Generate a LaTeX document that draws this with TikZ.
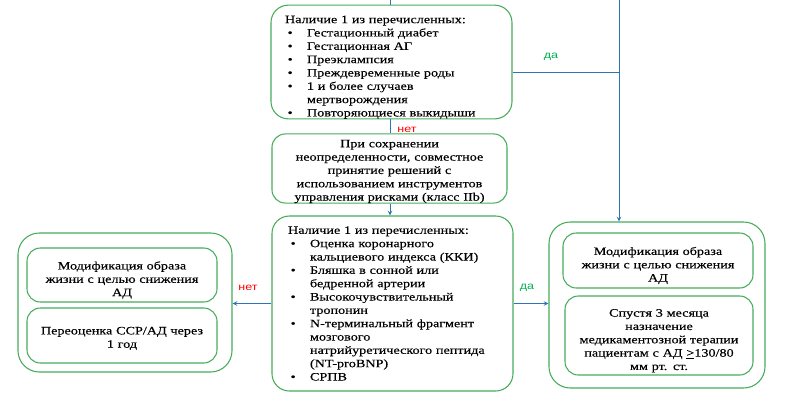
\documentclass[tikz,border=0pt]{standalone}
\usepackage{fontspec}
\setmainfont[FakeStretch=1.25, FakeBold=0.3]{Liberation Serif}
\newfontfamily\lblfont[FakeStretch=1.25]{Liberation Sans}
\usepackage{tikz}
\definecolor{gborder}{RGB}{70,172,90}
\definecolor{lblue}{RGB}{46,117,182}
\definecolor{nred}{RGB}{255,0,0}
\definecolor{ygreen}{RGB}{0,176,80}

\newcommand{\bitem}[1]{\par\noindent\hangindent=16.5pt\hangafter=1\makebox[16.5pt][l]{\hspace{2pt}\textbullet}#1}
\newcommand{\tp}{\rule{0pt}{13.5pt}}

\begin{document}
\begin{tikzpicture}[x=0.75pt, y=-0.75pt, >=stealth,
    every node/.style={font=\fontsize{8.5pt}{10pt}\selectfont},
    listbox/.style={draw=gborder, line width=0.8pt, rounded corners=13pt, align=left, inner ysep=0pt},
    textbox/.style={draw=gborder, line width=0.8pt, rounded corners=10pt, align=center, inner sep=0pt},
    outerbox/.style={draw=gborder, line width=0.8pt, rounded corners=16pt, inner sep=0pt},
    link/.style={draw=lblue, line width=0.6pt},
    yeslbl/.style={text=ygreen, font=\lblfont\fontsize{7.5pt}{9pt}\selectfont},
    nolbl/.style={text=nred, font=\lblfont\fontsize{7.5pt}{9pt}\selectfont}]
    % \draw[help lines, gray] (0, 0) grid[step=50] (804, 405);
    \useasboundingbox (0, 0) rectangle (804, 405);

    % conditions
    \node[listbox, text width=159.75pt, inner xsep=10.5pt, minimum height=82.5pt] (cond1) at (391.5, 62) {\tp Наличие 1 из перечисленных:
        \bitem{Гестационный диабет}
        \bitem{Гестационная АГ}
        \bitem{Преэклампсия}
        \bitem{Преждевременные роды}
        \bitem{1 и более случаев\newline мертворождения}
        \bitem{Повторяющиеся выкидыши}};

    \node[textbox, text width=165pt, minimum width=176.25pt, minimum height=48.75pt] (shared) at (389.5, 168.5)
        {\rule{0pt}{10pt}При сохранении\\ неопределенности, совместное\\ принятие решений с\\ использованием инструментов\\ управления рисками (класс IIb)};

    \node[listbox, text width=156.75pt, inner xsep=12pt, minimum height=131.25pt] (cond2) at (392.5, 303.5) {Наличие 1 из перечисленных:
        \bitem{Оценка коронарного\newline кальциевого индекса (ККИ)}
        \bitem{Бляшка в сонной или\newline бедренной артерии}
        \bitem{Высокочувствительный\newline тропонин}
        \bitem{N-терминальный фрагмент\newline мозгового\newline натрийуретического пептида\newline (NT-proBNP)}
        \bitem{СРПВ}};

    % outcome: no
    \node[outerbox, minimum width=160.5pt, minimum height=104.25pt] (noBox) at (125, 302.5) {};
    \node[textbox, text width=135pt, minimum width=142.5pt, minimum height=40.5pt] (noLife) at (122, 275)
        {\tp Модификация образа\\ жизни с целью снижения\\ АД};
    \node[textbox, text width=135pt, minimum width=142.5pt, minimum height=41.25pt] (noReval) at (122, 335.5)
        {\rule{0pt}{10pt}Переоценка ССР/АД через\\ 1 год};

    % outcome: yes
    \node[outerbox, minimum width=162pt, minimum height=124.5pt] (yesBox) at (657, 305) {};
    \node[textbox, text width=135pt, minimum width=142.5pt, minimum height=41.25pt] (yesLife) at (658, 260.5)
        {\tp Модификация образа\\ жизни с целью снижения\\ АД};
    \node[textbox, text width=135pt, minimum width=141pt, minimum height=59.25pt] (yesDrug) at (659, 335.5)
        {\tp Спустя 3 месяца\\ назначение\\ медикаментозной терапии\\ пациентам с АД \underline{>}130/80\\ мм рт. ст.};

    % connectors
    \coordinate (srcA) at (390, 0);
    \coordinate (srcB) at (619, 0);
    \coordinate (jnB) at (619, 72);

    \draw[link] (srcA) -- (srcA |- cond1.north);
    \draw[link] (srcB) -- (jnB);
    \draw[link, ->] (jnB) -- (srcB |- yesBox.north);
    \draw[link] (cond1.east |- jnB) -- (jnB);
    \draw[link] (srcA |- cond1.south) -- (srcA |- shared.north);
    \draw[link, ->] (srcA |- shared.south) -- (srcA |- cond2.north);
    \draw[link, ->] (cond2.west) -- (cond2.west -| noBox.east);
    \draw[link, ->] (cond2.east) -- (cond2.east -| yesBox.west);

    \node[yeslbl] (daTop) at (551, 57) {да};
    \node[nolbl] (netMid) at (407, 130) {нет};
    \node[nolbl] (netLeft) at (248, 288) {нет};
    \node[yeslbl] (daRight) at (527, 288) {да};
\end{tikzpicture}
\end{document}
